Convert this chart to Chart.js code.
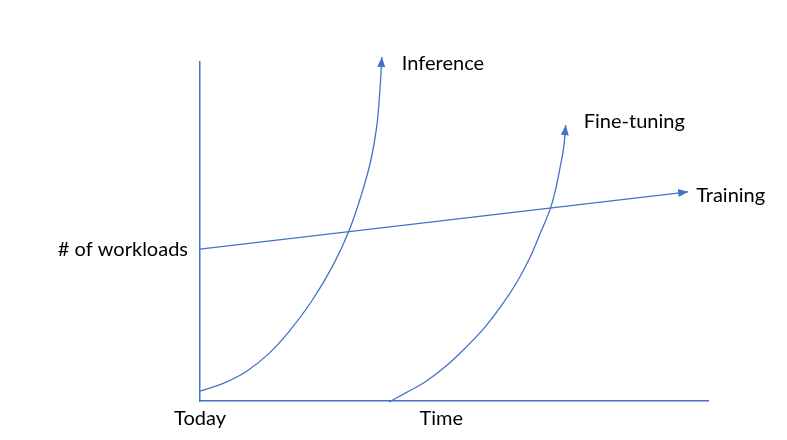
<!DOCTYPE html>
<html>
<head>
<meta charset="utf-8">
<script src="https://cdn.jsdelivr.net/npm/chart.js@4.4.1/dist/chart.umd.min.js"></script>
<style>
  html, body { margin: 0; padding: 0; background: #fff; }
  #wrap { width: 787px; height: 440px; }
</style>
</head>
<body>
<div id="wrap"><canvas id="myChart"></canvas></div>
<script>
// values (x: 0 = today, y: 0 = no workloads)
const seriesNames = ['Inference', 'Fine-tuning', 'Training'];
const inferenceX = [0, 4.7, 9.2, 13.7, 17.6, 22.0, 26.1, 29.3, 31.7, 33.6, 34.8, 35.4, 35.8];
const inferenceY = [2.9, 5.3, 8.8, 14.2, 20.6, 29.5, 39.8, 50.1, 60.5, 70.8, 81.1, 91.4, 101.5];
const fineTuningX = [37.2, 40.5, 44.3, 48.2, 52.2, 56.1, 59.4, 62.4, 65.0, 67.1, 69.0, 70.1, 70.9, 71.6, 72.0];
const fineTuningY = [-0.3, 2.4, 5.6, 10.0, 15.6, 21.8, 28.3, 35.1, 42.5, 49.9, 56.9, 63.1, 69.0, 74.9, 81.4];
const trainingX = [0, 96.1];
const trainingY = [44.8, 61.7];
const xTickValues = [0, 47.5];
const xTickLabels = ['Today', 'Time'];
const yTickValues = [44.8];
const yTickLabels = ['# of workloads'];

const blue = '#4472C4';
const font = { family: 'Lato', size: 20 };

const toPoints = (xs, ys) => xs.map((x, i) => ({ x: x, y: ys[i] }));

// label offsets from the arrow tip, in pixels
const labelOffset = [[20, 7], [18, -4], [8, 4]];

const arrowsAndLabels = {
  id: 'arrowsAndLabels',
  afterDatasetsDraw(chart) {
    const c = chart.ctx;
    chart.data.datasets.forEach((ds, i) => {
      const pts = chart.getDatasetMeta(i).data;
      const tip = pts[pts.length - 1];
      const prev = pts[pts.length - 2];
      const ang = Math.atan2(tip.y - prev.y, tip.x - prev.x);
      const len = 10, half = 4;
      c.save();
      c.fillStyle = blue;
      c.beginPath();
      c.moveTo(tip.x, tip.y);
      c.lineTo(tip.x - len * Math.cos(ang) + half * Math.sin(ang), tip.y - len * Math.sin(ang) - half * Math.cos(ang));
      c.lineTo(tip.x - len * Math.cos(ang) - half * Math.sin(ang), tip.y - len * Math.sin(ang) + half * Math.cos(ang));
      c.closePath();
      c.fill();

      c.fillStyle = '#000';
      c.font = font.size + 'px ' + font.family;
      c.textAlign = 'left';
      c.textBaseline = 'middle';
      c.fillText(ds.label, tip.x + labelOffset[i][0], tip.y + labelOffset[i][1]);
      c.restore();
    });
  }
};

const lineStyle = {
  showLine: true,
  borderColor: blue,
  borderWidth: 1.3,
  pointRadius: 0,
  tension: 0.4,
  clip: false
};

new Chart(document.getElementById('myChart'), {
  type: 'scatter',
  data: {
    datasets: [
      { label: seriesNames[0], data: toPoints(inferenceX, inferenceY), ...lineStyle },
      { label: seriesNames[1], data: toPoints(fineTuningX, fineTuningY), ...lineStyle },
      { label: seriesNames[2], data: toPoints(trainingX, trainingY), ...lineStyle, tension: 0 }
    ]
  },
  options: {
    responsive: true,
    maintainAspectRatio: false,
    animation: false,
    layout: { padding: { top: 62, right: 79, left: 0, bottom: 0 } },
    plugins: {
      legend: { display: false },
      tooltip: { enabled: false }
    },
    scales: {
      x: {
        type: 'linear',
        min: 0,
        max: 100,
        grid: { display: false, drawTicks: false },
        border: { display: true, color: blue, width: 1.5 },
        afterBuildTicks: (scale) => { scale.ticks = xTickValues.map(v => ({ value: v })); },
        afterFit: (scale) => { scale.height = 39; },
        ticks: {
          padding: 6,
          color: '#000',
          font: font,
          maxRotation: 0,
          callback: (v) => xTickLabels[xTickValues.indexOf(v)]
        }
      },
      y: {
        type: 'linear',
        min: 0,
        max: 100,
        grid: { display: false, drawTicks: false },
        border: { display: true, color: blue, width: 1.5 },
        afterBuildTicks: (scale) => { scale.ticks = yTickValues.map(v => ({ value: v })); },
        afterFit: (scale) => { scale.width = 200; },
        ticks: {
          padding: 12,
          color: '#000',
          font: font,
          callback: (v) => yTickLabels[yTickValues.indexOf(v)]
        }
      }
    }
  },
  plugins: [arrowsAndLabels]
});
</script>
</body>
</html>
